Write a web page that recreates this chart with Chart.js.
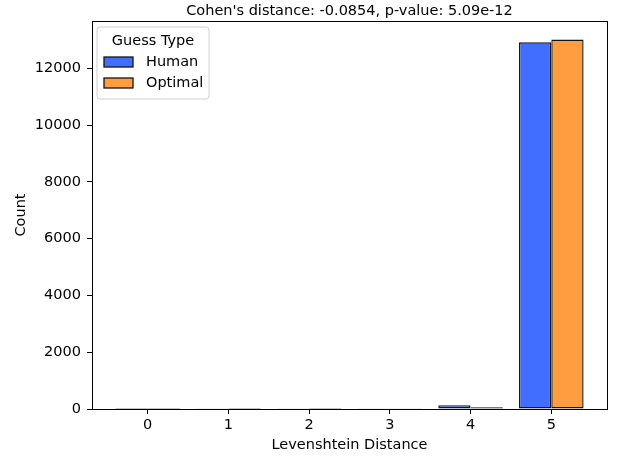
<!DOCTYPE html>
<html>
<head>
<meta charset="utf-8">
<script src="https://cdn.jsdelivr.net/npm/chart.js@4/dist/chart.umd.min.js"></script>
<style>
  html, body { margin: 0; padding: 0; background: #fff; }
  #wrap { width: 618px; height: 459px; }
</style>
</head>
<body>
<div id="wrap"><canvas id="hist"></canvas></div>
<script>
// Histogram data
const distances = [0, 1, 2, 3, 4, 5];
const humanCounts = [4, 6, 5, 9, 135, 12920];
const optimalCounts = [2, 3, 4, 6, 58, 13020];
const yTicks = [0, 2000, 4000, 6000, 8000, 10000, 12000];
const seriesNames = ['Human', 'Optimal'];
const titleText = "Cohen's distance: -0.0854, p-value: 5.09e-12";

const FONT = 'DejaVu Sans';
const FS = 14.5;
const blue = '#416eff';
const orange = '#ff9d40';
const edge = '#141414';

// Frame, title and legend box like matplotlib
const framePlugin = {
    id: 'frame',
    afterDraw(chart) {
        const { ctx, chartArea: a } = chart;
        ctx.save();
        ctx.strokeStyle = '#000';
        ctx.lineWidth = 1;
        ctx.strokeRect(a.left + 0.5, a.top + 0.5, a.right - a.left, a.bottom - a.top);

        // title
        ctx.fillStyle = '#000';
        ctx.font = `${FS}px "${FONT}"`;
        ctx.textAlign = 'center';
        ctx.textBaseline = 'middle';
        ctx.fillText(titleText, (a.left + a.right) / 2, 11);

        // legend
        const lx = a.left + 5, ly = a.top + 6, lw = 112, lh = 72;
        ctx.beginPath();
        ctx.roundRect(lx, ly, lw, lh, 3);
        ctx.fillStyle = 'rgba(255,255,255,0.8)';
        ctx.fill();
        ctx.strokeStyle = '#d0d0d0';
        ctx.stroke();
        ctx.fillStyle = '#000';
        ctx.fillText('Guess Type', lx + lw / 2, ly + 14);
        const colors = [blue, orange];
        seriesNames.forEach((name, i) => {
            const py = ly + 30 + i * 21;
            ctx.fillStyle = colors[i];
            ctx.fillRect(lx + 7, py, 29, 10);
            ctx.strokeStyle = edge;
            ctx.lineWidth = 1.3;
            ctx.strokeRect(lx + 7, py, 29, 10);
            ctx.fillStyle = '#000';
            ctx.textAlign = 'left';
            ctx.fillText(name, lx + 49, py + 5);
        });
        ctx.restore();
    }
};

function toPoints(values) {
    return distances.map((d, i) => ({ x: d, y: values[i] }));
}

const ctx = document.getElementById('hist');
new Chart(ctx, {
    type: 'bar',
    data: {
        datasets: [{
            label: seriesNames[0],
            data: toPoints(humanCounts),
            backgroundColor: blue,
            borderColor: edge,
            borderWidth: 1.4,
            borderSkipped: false,
            categoryPercentage: 0.8,
            barPercentage: 1.0
        }, {
            label: seriesNames[1],
            data: toPoints(optimalCounts),
            backgroundColor: orange,
            borderColor: edge,
            borderWidth: 1.4,
            borderSkipped: false,
            categoryPercentage: 0.8,
            barPercentage: 1.0
        }]
    },
    options: {
        responsive: true,
        maintainAspectRatio: false,
        animation: false,
        layout: {
            padding: { top: 21, right: 11, left: 0, bottom: 0 }
        },
        plugins: {
            legend: { display: false },
            title: { display: false },
            tooltip: { enabled: false }
        },
        scales: {
            x: {
                type: 'linear',
                min: -0.69,
                max: 5.69,
                offset: false,
                afterBuildTicks: (scale) => {
                    scale.ticks = distances.map(v => ({ value: v }));
                },
                afterFit: (scale) => { scale.height = 50; },
                grid: {
                    offset: false,
                    drawOnChartArea: false,
                    drawTicks: true,
                    tickLength: 5,
                    tickColor: '#000'
                },
                border: { display: true, color: '#000', width: 1 },
                ticks: {
                    color: '#000',
                    font: { family: FONT, size: FS },
                    padding: 3,
                    maxRotation: 0,
                    callback: (v) => String(v)
                },
                title: {
                    display: true,
                    text: 'Levenshtein Distance',
                    color: '#000',
                    font: { family: FONT, size: FS },
                    padding: { top: 0, bottom: 5 }
                }
            },
            y: {
                min: 0,
                max: 13671,
                afterBuildTicks: (scale) => {
                    scale.ticks = yTicks.map(v => ({ value: v }));
                },
                afterFit: (scale) => { scale.width = 92; },
                grid: {
                    drawOnChartArea: false,
                    drawTicks: true,
                    tickLength: 5,
                    tickColor: '#000'
                },
                border: { display: true, color: '#000', width: 1 },
                ticks: {
                    color: '#000',
                    font: { family: FONT, size: FS },
                    padding: 6,
                    callback: (v) => String(v)
                },
                title: {
                    display: true,
                    text: 'Count',
                    color: '#000',
                    font: { family: FONT, size: FS },
                    padding: { top: 13, bottom: 0 }
                }
            }
        }
    },
    plugins: [framePlugin]
});
</script>
</body>
</html>
